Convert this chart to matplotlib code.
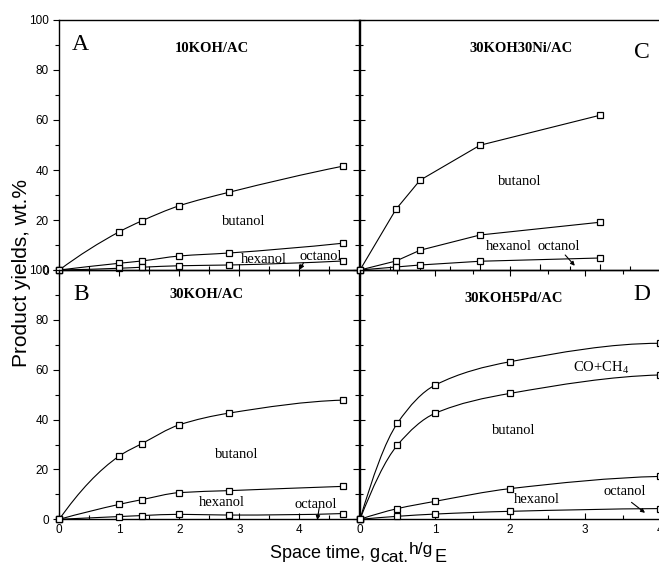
import numpy as np
import matplotlib
matplotlib.use('Agg')
import matplotlib.pyplot as plt
from matplotlib.path import Path
from matplotlib.patches import PathPatch

plt.rcParams['font.family'] = ['Liberation Sans', 'DejaVu Sans']

# panel A - 10KOH/AC
x_a = [0, 1, 1.37, 2, 2.83, 4.72]
a_butanol = [0, 15.3, 19.6, 25.7, 31.1, 41.5]
a_hexanol = [0, 2.7, 3.6, 5.6, 6.8, 10.7]
a_octanol = [0, 0.7, 1.1, 1.7, 2.0, 3.6]

# panel B - 30KOH/AC
x_b = [0, 1, 1.38, 2, 2.83, 4.72]
b_butanol = [0, 25.4, 30.4, 37.9, 42.6, 47.8]
b_hexanol = [0, 6.0, 7.9, 10.7, 11.5, 13.2]
b_octanol = [0, 1.1, 1.5, 2.0, 1.7, 2.3]

# panel C - 30KOH30Ni/AC
x_c = [0, 0.6, 1, 2, 4]
c_butanol = [0, 24.3, 35.9, 49.9, 61.9]
c_hexanol = [0, 3.6, 7.9, 14.0, 19.1]
c_octanol = [0, 1.2, 2.0, 3.5, 4.8]

# panel D - 30KOH5Pd/AC
x_d = [0, 0.5, 1, 2, 4]
d_coch4 = [0, 38.6, 53.8, 63.2, 70.6]
d_butanol = [0, 29.8, 42.5, 50.5, 57.9]
d_hexanol = [0, 4.3, 7.2, 12.3, 17.2]
d_octanol = [0, 1.2, 2.1, 3.2, 4.3]

serif = ['Liberation Serif', 'DejaVu Serif']


def end_slope(h0, h1, d0, d1):
    m = ((2 * h0 + h1) * d0 - h0 * d1) / (h0 + h1)
    if np.sign(m) != np.sign(d0):
        m = 0
    elif np.sign(d0) != np.sign(d1) and abs(m) > abs(3 * d0):
        m = 3 * d0
    return m


def smooth_line(ax, x, y):
    # monotone cubic through the points, drawn as bezier path
    x = np.asarray(x, float)
    y = np.asarray(y, float)
    h = np.diff(x)
    d = np.diff(y) / h
    m = np.zeros_like(y)
    m[0] = end_slope(h[0], h[1], d[0], d[1])
    m[-1] = end_slope(h[-1], h[-2], d[-1], d[-2])
    for i in range(1, len(x) - 1):
        if d[i - 1] * d[i] <= 0:
            m[i] = 0
        else:
            w1 = 2 * h[i] + h[i - 1]
            w2 = h[i] + 2 * h[i - 1]
            m[i] = (w1 + w2) / (w1 / d[i - 1] + w2 / d[i])
    verts = [(x[0], y[0])]
    codes = [Path.MOVETO]
    for i in range(len(x) - 1):
        verts += [(x[i] + h[i] / 3, y[i] + m[i] * h[i] / 3),
                  (x[i + 1] - h[i] / 3, y[i + 1] - m[i + 1] * h[i] / 3),
                  (x[i + 1], y[i + 1])]
        codes += [Path.CURVE4] * 3
    ax.add_patch(PathPatch(Path(verts, codes), fill=False, lw=0.8,
                           edgecolor='black', clip_on=False))


def series(ax, x, y, smooth=True):
    if smooth:
        smooth_line(ax, x, y)
        ax.plot(x, y, ls='none', marker='s', ms=5, mfc='white', mec='black',
                mew=0.9, clip_on=False, zorder=5)
    else:
        ax.plot(x, y, color='black', lw=0.8, marker='s', ms=5, mfc='white',
                mec='black', mew=0.9, clip_on=False, zorder=5)


def label(ax, text, x, y, **kw):
    ax.text(x, y, text, family=serif, fontsize=10.5, ha='center', va='center', **kw)


def arrow(ax, x0, y0, x1, y1):
    ax.annotate('', xy=(x1, y1), xytext=(x0, y0),
                arrowprops=dict(arrowstyle='-|>', color='black', lw=0.8,
                                mutation_scale=6, shrinkA=0, shrinkB=0),
                annotation_clip=False)


fig = plt.figure(figsize=(6.59, 5.65), dpi=100)
W, H = 659, 565


def make_ax(left, top, width, height):
    return fig.add_axes([left / W, 1 - (top + height) / H, width / W, height / H])


ax_a = make_ax(59.3, 20, 300, 250)
ax_b = make_ax(59.3, 270, 300, 249.3)
ax_c = make_ax(360, 20, 300, 250)
ax_d = make_ax(360, 270, 300, 249.3)

for ax in [ax_a, ax_b, ax_c, ax_d]:
    ax.set_ylim(0, 100)
    ax.patch.set_alpha(0)
    for s in ax.spines.values():
        s.set_linewidth(1.0)

for ax in [ax_a, ax_b, ax_c]:
    ax.set_xlim(0, 5)
ax_d.set_xlim(0, 4)

# left column y axis
for ax in [ax_a, ax_b]:
    ax.set_yticks(np.arange(0, 101, 20))
    ax.set_yticks(np.arange(10, 100, 20), minor=True)
    ax.tick_params(axis='y', which='both', left=True, right=True, labelsize=8.5,
                   direction='out', length=4, width=0.8)
    ax.tick_params(axis='y', which='minor', length=3)
    ax.spines['right'].set_visible(False)
    ax.set_xticks(np.arange(0, 5, 1))
    ax.set_xticks(np.arange(0.5, 5, 0.5), minor=True)
    ax.tick_params(axis='x', which='both', direction='in', length=4, width=0.8,
                   labelsize=8.5)
    ax.tick_params(axis='x', which='minor', length=3)

# inward ticks on the shared right side of the left panels
for ax in [ax_a, ax_b]:
    sec = ax.secondary_yaxis('right')
    sec.set_yticks(np.arange(0, 101, 20))
    sec.set_yticks(np.arange(10, 100, 20), minor=True)
    sec.tick_params(which='both', direction='in', length=4, width=0.8, labelright=False)
    sec.tick_params(which='minor', length=3)
    sec.spines['right'].set_linewidth(1.0)

for ax in [ax_c, ax_d]:
    ax.tick_params(axis='y', which='both', left=False, right=False, labelleft=False)
    ax.spines['right'].set_visible(False)

ax_c.set_xticks(np.arange(0, 6, 1))
ax_c.set_xticks(np.arange(0.5, 5, 0.5), minor=True)
ax_d.set_xticks(np.arange(0, 5, 1))
ax_d.set_xticks(np.arange(0.5, 4, 0.5), minor=True)
for ax in [ax_c, ax_d]:
    ax.tick_params(axis='x', which='both', direction='in', length=4, width=0.8,
                   labelsize=8.5)
    ax.tick_params(axis='x', which='minor', length=3)

for ax in [ax_a, ax_c]:
    ax.tick_params(axis='x', labelbottom=False)
for ax in [ax_b, ax_d]:
    ax.tick_params(axis='x', which='both', top=True)

# panel A
for y in [a_butanol, a_hexanol, a_octanol]:
    series(ax_a, x_a, y)
ax_a.text(0.07, 0.90, 'A', transform=ax_a.transAxes, family=serif, fontsize=17,
          ha='center', va='center')
ax_a.text(0.51, 0.885, '10KOH/AC', transform=ax_a.transAxes, family=serif,
          fontsize=10.5, fontweight='bold', ha='center', va='center')
label(ax_a, 'butanol', 3.08, 19.3)
label(ax_a, 'hexanol', 3.41, 4.3)
label(ax_a, 'octanol', 4.36, 5.5)
arrow(ax_a, 4.07, 2.9, 4.01, 0.2)

# panel B
for y in [b_butanol, b_hexanol, b_octanol]:
    series(ax_b, x_b, y)
ax_b.text(0.073, 0.90, 'B', transform=ax_b.transAxes, family=serif, fontsize=17,
          ha='center', va='center')
ax_b.text(0.49, 0.90, '30KOH/AC', transform=ax_b.transAxes, family=serif,
          fontsize=10.5, fontweight='bold', ha='center', va='center')
label(ax_b, 'butanol', 2.95, 26)
label(ax_b, 'hexanol', 2.71, 6.8)
label(ax_b, 'octanol', 4.28, 6.1)
arrow(ax_b, 4.33, 4.4, 4.30, -0.3)

# panel C
for y in [c_butanol, c_hexanol, c_octanol]:
    series(ax_c, x_c, y, smooth=False)
ax_c.text(0.94, 0.87, 'C', transform=ax_c.transAxes, family=serif, fontsize=17,
          ha='center', va='center')
ax_c.text(0.537, 0.885, '30KOH30Ni/AC', transform=ax_c.transAxes, family=serif,
          fontsize=10.5, fontweight='bold', ha='center', va='center')
label(ax_c, 'butanol', 2.67, 35.3)
label(ax_c, 'hexanol', 2.48, 9.3)
label(ax_c, 'octanol', 3.31, 9.3)
arrow(ax_c, 3.42, 6.0, 3.58, 1.7)

# panel D
for y in [d_coch4, d_butanol, d_hexanol, d_octanol]:
    series(ax_d, x_d, y)
ax_d.text(0.94, 0.90, 'D', transform=ax_d.transAxes, family=serif, fontsize=17,
          ha='center', va='center')
ax_d.text(0.513, 0.885, '30KOH5Pd/AC', transform=ax_d.transAxes, family=serif,
          fontsize=10.5, fontweight='bold', ha='center', va='center')
label(ax_d, r'CO+CH$_\mathregular{4}$', 3.21, 61.0)
label(ax_d, 'butanol', 2.05, 35.5)
label(ax_d, 'hexanol', 2.36, 8.0)
label(ax_d, 'octanol', 3.53, 11.3)
arrow(ax_d, 3.62, 6.8, 3.8, 2.6)

fig.text(22 / W, 1 - 273 / H, 'Product yields, wt.%', rotation=90, fontsize=15,
         ha='center', va='center')

# x label built from pieces: main text, lowered, raised, lowered
renderer = fig.canvas.get_renderer()
pieces = [('Space time, g', 13, 0), ('cat.', 12.5, -4), ('h/g', 12.5, 4), ('E', 13, -4)]
xpos = 270.0
for txt, size, dy in pieces:
    t = fig.text(xpos / W, 1 - (558 - dy) / H, txt, fontsize=size, ha='left',
                 va='baseline')
    xpos += t.get_window_extent(renderer).width + 0.5

fig.savefig('out.png', dpi=100)
